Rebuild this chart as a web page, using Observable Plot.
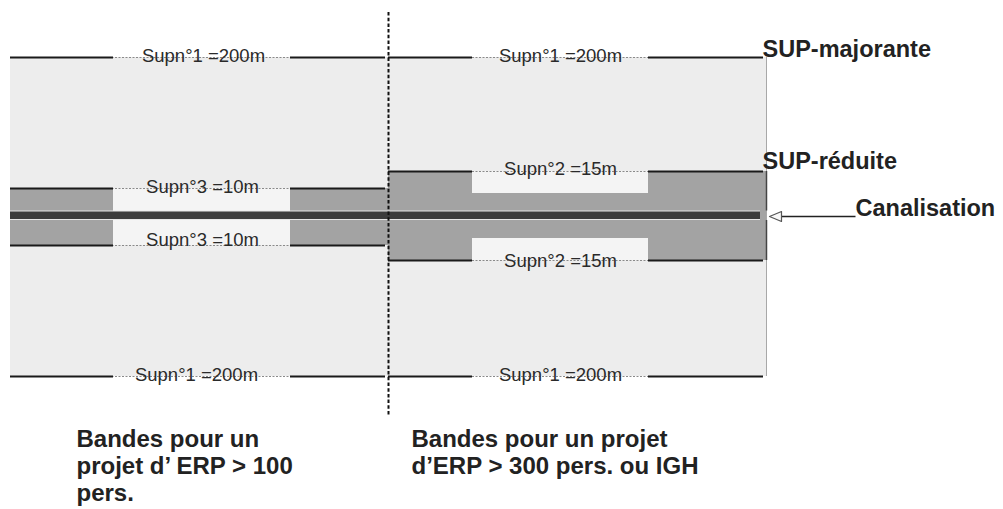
<!DOCTYPE html>
<html><head><meta charset="utf-8">
<script src="https://cdn.jsdelivr.net/npm/d3@7"></script>
<script src="https://cdn.jsdelivr.net/npm/@observablehq/plot@0.6"></script>
<style>body{margin:0;background:#fff}</style>
</head><body><div id="chart"></div>
<script>
// Schematic diagram units (x along the pipe, y across it, downward)
const sections = ["ERP > 100 pers.", "ERP > 300 pers. ou IGH"];
const sectionStart = [10, 388];
const sectionEnd = [388, 766];
const gapStart = [113, 472];      // label gaps in the reduced bands
const gapEnd = [290, 648];
const bandTop = [188, 171];       // SUP-réduite band edges
const bandBottom = [245, 260];
const gapBandTop = [212, 193];    // band remaining inside the gap
const gapBandBottom = [219, 238];
const majoranteTop = [57, 57];    // SUP-majorante (Supn°1 = 200 m)
const majoranteBottom = [376, 376];
const pipeTop = 211.5, pipeBottom = 219, pipeStart = 10, pipeEnd = 760;
const dividerX = 388, dividerTop = 12, dividerBottom = 415;

const supLabels = ["Supn°1 =200m", "Supn°1 =200m", "Supn°1 =200m", "Supn°1 =200m",
                   "Supn°3 =10m", "Supn°3 =10m", "Supn°2 =15m", "Supn°2 =15m"];
const supLabelX = [203, 560, 196, 560, 202, 202, 560, 560];
const supLabelY = [56, 56, 375, 375, 187, 240, 169, 261];

const sideLabels = ["SUP-majorante", "SUP-réduite", "Canalisation"];
const sideLabelX = [762, 762, 855];
const sideLabelY = [49, 161, 208];

const captions = ["Bandes pour un\nprojet d’ ERP > 100\npers.", "Bandes pour un projet\nd’ERP > 300 pers. ou IGH"];
const captionX = [76, 411];
const captionY = [427, 427];

const arrowTip = {x: 769, y: 216}, arrowTail = {x: 855, y: 216};

// ---- derived tables ----
const idx = sections.map((_, i) => i);
const bg = [{x1: sectionStart[0], x2: sectionEnd[1], y1: majoranteTop[0], y2: majoranteBottom[0]}];
const bandRects = idx.flatMap(i => [
  {x1: sectionStart[i], x2: gapStart[i], y1: bandTop[i], y2: bandBottom[i]},
  {x1: gapEnd[i], x2: sectionEnd[i], y1: bandTop[i], y2: bandBottom[i]}
]);
const gapRects = idx.map(i => ({x1: gapStart[i], x2: gapEnd[i], y1: bandTop[i], y2: bandBottom[i]}));
const gapBandRects = idx.map(i => ({x1: gapStart[i], x2: gapEnd[i], y1: gapBandTop[i], y2: gapBandBottom[i]}));
const ruleYs = idx.flatMap(i => [majoranteTop[i], bandTop[i], bandBottom[i], majoranteBottom[i]].map(y => ({i, y})));
const thinRules = ruleYs.map(({i, y}) => ({x1: sectionStart[i], x2: sectionEnd[i] - 3, y}));
const solidRules = ruleYs.flatMap(({i, y}) => [
  {x1: sectionStart[i], x2: gapStart[i], y},
  {x1: gapEnd[i], x2: sectionEnd[i] - 3, y}
]);
const edgeRules = [
  {x: sectionEnd[1], y1: bandTop[1], y2: pipeTop - 1},
  {x: sectionEnd[1], y1: pipeBottom + 1, y2: bandBottom[1]}
];
const labels = supLabels.map((t, k) => ({t, x: supLabelX[k], y: supLabelY[k]}));
const sides = sideLabels.map((t, k) => ({t, x: sideLabelX[k], y: sideLabelY[k]}));
const caps = captions.map((t, k) => ({t, x: captionX[k], y: captionY[k]}));
const tri = [
  {x: arrowTip.x, y: arrowTip.y},
  {x: arrowTip.x + 12, y: arrowTip.y - 5},
  {x: arrowTip.x + 12, y: arrowTip.y + 5},
  {x: arrowTip.x, y: arrowTip.y}
];

const font = "'Liberation Sans', Arial, Helvetica, sans-serif";

const chart = Plot.plot({
  width: 1003, height: 509,
  margin: 0,
  x: {domain: [0, 1003], range: [0, 1003], axis: null},
  y: {domain: [0, 509], range: [0, 509], axis: null},
  style: {fontFamily: font, background: "#fff"},
  marks: [
    Plot.rect(bg, {x1: "x1", x2: "x2", y1: "y1", y2: "y2", fill: "#ededed"}),
    Plot.ruleX([sectionEnd[1]], {y1: majoranteTop[0], y2: majoranteBottom[0], stroke: "#a8a8a8", strokeWidth: 1}),
    Plot.rect(gapRects, {x1: "x1", x2: "x2", y1: "y1", y2: "y2", fill: "#f4f4f4"}),
    Plot.rect(bandRects, {x1: "x1", x2: "x2", y1: "y1", y2: "y2", fill: "#a3a3a3"}),
    Plot.rect(gapBandRects, {x1: "x1", x2: "x2", y1: "y1", y2: "y2", fill: "#a3a3a3"}),
    Plot.ruleY(thinRules, {x1: "x1", x2: "x2", y: "y", stroke: "#8a8a8a", strokeWidth: 1, strokeDasharray: "2,1.5"}),
    Plot.ruleY(solidRules, {x1: "x1", x2: "x2", y: "y", stroke: "#1a1a1a", strokeWidth: 2}),
    Plot.ruleX(edgeRules, {x: "x", y1: "y1", y2: "y2", stroke: "#444", strokeWidth: 1.5}),
    Plot.rect([{x1: pipeStart, x2: pipeEnd, y1: pipeTop - 1, y2: pipeBottom + 1}], {x1: "x1", x2: "x2", y1: "y1", y2: "y2", fill: "#e6e6e6"}),
    Plot.rect([{x1: pipeStart, x2: pipeEnd, y1: pipeTop, y2: pipeBottom}], {x1: "x1", x2: "x2", y1: "y1", y2: "y2", fill: "#3c3c3c"}),
    Plot.ruleX([dividerX], {y1: dividerTop, y2: dividerBottom, stroke: "#111", strokeWidth: 2, strokeDasharray: "3.5,2.2"}),
    Plot.link([{}], {x1: arrowTail.x, y1: arrowTail.y, x2: arrowTip.x + 12, y2: arrowTip.y, stroke: "#222", strokeWidth: 1.3}),
    Plot.line(tri, {x: "x", y: "y", stroke: "#555", strokeWidth: 1.2, fill: "#f8f8f8"}),
    Plot.text(labels, {x: "x", y: "y", text: "t", fontSize: 18.5, fill: "#2a2a2a", textAnchor: "middle", lineAnchor: "middle"}),
    Plot.text(sides, {x: "x", y: "y", text: "t", fontSize: 23.5, fontWeight: "bold", fill: "#222", textAnchor: "start", lineAnchor: "middle"}),
    Plot.text(caps, {x: "x", y: "y", text: "t", fontSize: 24, fontWeight: "bold", fill: "#222", textAnchor: "start", lineAnchor: "top", lineHeight: 1.13})
  ]
});
document.getElementById("chart").append(chart);
</script>
</body></html>
